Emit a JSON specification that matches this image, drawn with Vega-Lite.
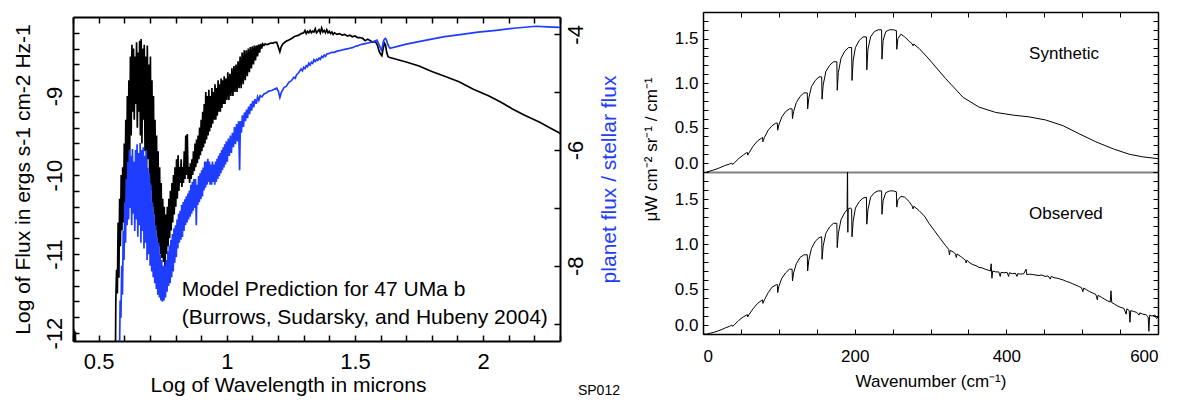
{
  "$schema": "https://vega.github.io/schema/vega-lite/v6.json",
  "background": "white",
  "padding": {"left": 12, "top": 8, "right": 5, "bottom": 0},
  "config": {"view": {"stroke": null}, "axis": {"grid": false, "domainColor": "black", "tickColor": "black", "labelColor": "black", "titleColor": "black", "titleFontWeight": "normal"}},
  "datasets": {
    "black": [
      {"x":0.4,"y":-12.2},{"x":0.403,"y":-11.95},{"x":0.406,"y":-12.3},{"x":0.409,"y":-11.98},{"x":0.412,"y":-12.4},{"x":0.55,"y":-12.5},{"x":0.563,"y":-12.5},
      {"x":0.566,"y":-12.1},{"x":0.567,"y":-11.6},{"x":0.570,"y":-11.2},{"x":0.573,"y":-11.5},{"x":0.576,"y":-10.6},{"x":0.579,"y":-11.3},{"x":0.582,"y":-10.3},{"x":0.585,"y":-10.9},{"x":0.588,"y":-10.0},{"x":0.591,"y":-10.7},{"x":0.594,"y":-9.9},{"x":0.597,"y":-10.6},{"x":0.600,"y":-9.6},{"x":0.603,"y":-10.4},{"x":0.606,"y":-9.3},{"x":0.609,"y":-10.2},{"x":0.612,"y":-9.0},{"x":0.615,"y":-10.0},{"x":0.618,"y":-8.8},{"x":0.621,"y":-9.8},{"x":0.624,"y":-8.5},{"x":0.627,"y":-9.5},{"x":0.630,"y":-8.35},{"x":0.633,"y":-9.2},{"x":0.636,"y":-8.4},{"x":0.639,"y":-9.3},{"x":0.642,"y":-8.5},{"x":0.645,"y":-9.1},{"x":0.648,"y":-8.32},{"x":0.651,"y":-9.4},{"x":0.654,"y":-8.45},{"x":0.657,"y":-9.2},{"x":0.660,"y":-8.3},{"x":0.663,"y":-9.5},{"x":0.666,"y":-8.28},{"x":0.669,"y":-9.6},{"x":0.672,"y":-8.4},{"x":0.675,"y":-9.3},{"x":0.678,"y":-8.35},{"x":0.681,"y":-9.7},{"x":0.684,"y":-8.5},{"x":0.687,"y":-9.9},{"x":0.690,"y":-8.36},{"x":0.693,"y":-9.8},{"x":0.696,"y":-8.6},{"x":0.699,"y":-10.1},{"x":0.702,"y":-8.5},{"x":0.705,"y":-10.2},{"x":0.708,"y":-8.8},{"x":0.711,"y":-10.4},{"x":0.714,"y":-9.0},{"x":0.717,"y":-10.5},{"x":0.720,"y":-9.3},{"x":0.723,"y":-10.7},{"x":0.726,"y":-9.5},{"x":0.729,"y":-10.8},{"x":0.732,"y":-9.7},{"x":0.735,"y":-10.9},{"x":0.738,"y":-9.9},{"x":0.741,"y":-11.0},{"x":0.744,"y":-10.1},{"x":0.747,"y":-11.05},{"x":0.750,"y":-10.3},{"x":0.753,"y":-11.1},{"x":0.756,"y":-10.4},{"x":0.759,"y":-11.15},{"x":0.762,"y":-10.5},{"x":0.765,"y":-11.0},{"x":0.768,"y":-10.4},{"x":0.771,"y":-10.9},{"x":0.774,"y":-10.3},{"x":0.777,"y":-10.8},{"x":0.780,"y":-10.2},{"x":0.783,"y":-10.7},{"x":0.786,"y":-10.1},{"x":0.789,"y":-10.6},{"x":0.792,"y":-10.0},{"x":0.795,"y":-10.5},{"x":0.798,"y":-9.9},{"x":0.801,"y":-10.4},{"x":0.804,"y":-9.8},{"x":0.807,"y":-10.3},{"x":0.810,"y":-9.75},{"x":0.813,"y":-10.2},{"x":0.816,"y":-9.9},{"x":0.819,"y":-10.1},{"x":0.822,"y":-9.8},{"x":0.825,"y":-10.15},{"x":0.828,"y":-9.9},{"x":0.831,"y":-10.1},{"x":0.834,"y":-9.7},{"x":0.837,"y":-10.05},{"x":0.840,"y":-9.5},{"x":0.843,"y":-10.0},{"x":0.846,"y":-9.48},{"x":0.849,"y":-10.05},{"x":0.852,"y":-9.9},{"x":0.855,"y":-10.1},{"x":0.858,"y":-9.85},{"x":0.861,"y":-10.05},{"x":0.864,"y":-9.8},{"x":0.867,"y":-10.0},{"x":0.870,"y":-9.7},{"x":0.873,"y":-9.95},{"x":0.876,"y":-9.6},{"x":0.879,"y":-9.9},{"x":0.882,"y":-9.55},{"x":0.885,"y":-9.85},{"x":0.888,"y":-9.5},{"x":0.891,"y":-9.8},{"x":0.894,"y":-9.4},{"x":0.897,"y":-9.75},{"x":0.900,"y":-9.3},{"x":0.903,"y":-9.7},{"x":0.906,"y":-9.2},{"x":0.909,"y":-9.65},{"x":0.912,"y":-9.1},{"x":0.915,"y":-9.6},{"x":0.918,"y":-8.95},{"x":0.921,"y":-9.55},{"x":0.924,"y":-9.0},{"x":0.927,"y":-9.5},{"x":0.930,"y":-8.92},{"x":0.933,"y":-9.45},{"x":0.936,"y":-9.0},{"x":0.939,"y":-9.4},{"x":0.942,"y":-8.9},{"x":0.945,"y":-9.35},{"x":0.948,"y":-8.95},{"x":0.951,"y":-9.3},{"x":0.954,"y":-8.85},{"x":0.957,"y":-9.3},{"x":0.960,"y":-8.9},{"x":0.963,"y":-9.25},{"x":0.966,"y":-8.8},{"x":0.969,"y":-9.2},{"x":0.972,"y":-8.85},{"x":0.975,"y":-9.2},{"x":0.978,"y":-8.78},{"x":0.981,"y":-9.15},{"x":0.984,"y":-8.8},{"x":0.987,"y":-9.1},{"x":0.990,"y":-8.75},{"x":0.993,"y":-9.1},{"x":0.996,"y":-8.78},{"x":1.000,"y":-9.05},{"x":1.004,"y":-8.7},{"x":1.008,"y":-9.05},{"x":1.012,"y":-8.72},{"x":1.016,"y":-9.0},{"x":1.020,"y":-8.65},{"x":1.024,"y":-9.0},{"x":1.028,"y":-8.62},{"x":1.032,"y":-8.95},{"x":1.036,"y":-8.6},{"x":1.040,"y":-8.95},{"x":1.044,"y":-8.56},{"x":1.048,"y":-8.9},{"x":1.052,"y":-8.5},{"x":1.056,"y":-8.9},{"x":1.060,"y":-8.45},{"x":1.064,"y":-8.85},{"x":1.068,"y":-8.42},{"x":1.072,"y":-8.8},{"x":1.076,"y":-8.42},{"x":1.080,"y":-8.75},{"x":1.084,"y":-8.4},{"x":1.088,"y":-8.7},{"x":1.092,"y":-8.38},{"x":1.096,"y":-8.65},{"x":1.100,"y":-8.37},{"x":1.104,"y":-8.6},{"x":1.108,"y":-8.36},{"x":1.112,"y":-8.55},{"x":1.116,"y":-8.36},{"x":1.120,"y":-8.5},{"x":1.124,"y":-8.35},{"x":1.128,"y":-8.45},{"x":1.132,"y":-8.34},{"x":1.136,"y":-8.4},{"x":1.140,"y":-8.34},{"x":1.145,"y":-8.36},{"x":1.150,"y":-8.34},{"x":1.157,"y":-8.35},{"x":1.164,"y":-8.34},{"x":1.172,"y":-8.33},{"x":1.180,"y":-8.33},{"x":1.188,"y":-8.32},{"x":1.195,"y":-8.32},{"x":1.201,"y":-8.38},{"x":1.207,"y":-8.44},{"x":1.212,"y":-8.38},{"x":1.219,"y":-8.34},{"x":1.230,"y":-8.31},{"x":1.242,"y":-8.29},{"x":1.255,"y":-8.27},{"x":1.262,"y":-8.25},{"x":1.270,"y":-8.24},{"x":1.281,"y":-8.23},{"x":1.290,"y":-8.21},{"x":1.300,"y":-8.2},{"x":1.305,"y":-8.17},{"x":1.310,"y":-8.21},{"x":1.315,"y":-8.18},{"x":1.320,"y":-8.2},{"x":1.325,"y":-8.17},{"x":1.330,"y":-8.2},{"x":1.335,"y":-8.18},{"x":1.340,"y":-8.19},{"x":1.345,"y":-8.15},{"x":1.350,"y":-8.2},{"x":1.355,"y":-8.18},{"x":1.360,"y":-8.16},{"x":1.365,"y":-8.2},{"x":1.370,"y":-8.14},{"x":1.375,"y":-8.19},{"x":1.380,"y":-8.17},{"x":1.385,"y":-8.2},{"x":1.390,"y":-8.16},{"x":1.395,"y":-8.2},{"x":1.400,"y":-8.18},{"x":1.405,"y":-8.21},{"x":1.410,"y":-8.19},{"x":1.415,"y":-8.22},{"x":1.420,"y":-8.2},{"x":1.430,"y":-8.22},{"x":1.440,"y":-8.21},{"x":1.450,"y":-8.23},{"x":1.460,"y":-8.22},{"x":1.470,"y":-8.24},{"x":1.480,"y":-8.23},{"x":1.490,"y":-8.25},{"x":1.500,"y":-8.24},{"x":1.510,"y":-8.26},{"x":1.520,"y":-8.26},{"x":1.530,"y":-8.27},{"x":1.540,"y":-8.3},{"x":1.550,"y":-8.28},{"x":1.560,"y":-8.3},{"x":1.570,"y":-8.32},{"x":1.580,"y":-8.31},{"x":1.588,"y":-8.36},{"x":1.594,"y":-8.43},{"x":1.600,"y":-8.47},{"x":1.605,"y":-8.49},{"x":1.610,"y":-8.4},{"x":1.615,"y":-8.33},{"x":1.619,"y":-8.35},{"x":1.624,"y":-8.45},{"x":1.629,"y":-8.5},{"x":1.633,"y":-8.51},{"x":1.700,"y":-8.57},{"x":1.750,"y":-8.62},{"x":1.800,"y":-8.69},{"x":1.850,"y":-8.75},{"x":1.906,"y":-8.82},{"x":1.960,"y":-8.91},{"x":2.023,"y":-9.0},{"x":2.070,"y":-9.08},{"x":2.113,"y":-9.16},{"x":2.160,"y":-9.24},{"x":2.219,"y":-9.33},{"x":2.260,"y":-9.40},{"x":2.305,"y":-9.48}
    ],
    "blue": [
      {"x":0.4,"y":-9.6},{"x":0.575,"y":-9.6},{"x":0.578,"y":-9.3},{"x":0.582,"y":-9.3},{"x":0.584,"y":-8.6},{"x":0.587,"y":-8.9},{"x":0.590,"y":-8.0},{"x":0.593,"y":-8.5},{"x":0.596,"y":-7.4},{"x":0.599,"y":-7.9},{"x":0.602,"y":-6.9},{"x":0.605,"y":-7.6},{"x":0.608,"y":-6.5},{"x":0.611,"y":-7.3},{"x":0.614,"y":-6.2},{"x":0.617,"y":-7.2},{"x":0.620,"y":-6.0},{"x":0.623,"y":-7.0},{"x":0.626,"y":-6.1},{"x":0.629,"y":-7.3},{"x":0.632,"y":-5.98},{"x":0.635,"y":-7.1},{"x":0.638,"y":-6.2},{"x":0.641,"y":-7.4},{"x":0.644,"y":-6.0},{"x":0.647,"y":-7.2},{"x":0.650,"y":-5.9},{"x":0.653,"y":-7.5},{"x":0.656,"y":-6.05},{"x":0.659,"y":-7.3},{"x":0.662,"y":-5.88},{"x":0.665,"y":-7.6},{"x":0.668,"y":-6.0},{"x":0.671,"y":-7.4},{"x":0.674,"y":-5.95},{"x":0.677,"y":-7.7},{"x":0.680,"y":-6.1},{"x":0.683,"y":-7.6},{"x":0.686,"y":-6.0},{"x":0.689,"y":-7.9},{"x":0.692,"y":-6.3},{"x":0.695,"y":-7.8},{"x":0.698,"y":-6.4},{"x":0.701,"y":-8.0},{"x":0.704,"y":-6.6},{"x":0.707,"y":-8.1},{"x":0.710,"y":-6.9},{"x":0.713,"y":-8.2},{"x":0.716,"y":-7.1},{"x":0.719,"y":-8.3},{"x":0.722,"y":-7.3},{"x":0.725,"y":-8.4},{"x":0.728,"y":-7.5},{"x":0.731,"y":-8.5},{"x":0.734,"y":-7.6},{"x":0.737,"y":-8.55},{"x":0.740,"y":-7.8},{"x":0.743,"y":-8.6},{"x":0.746,"y":-7.9},{"x":0.749,"y":-8.62},{"x":0.752,"y":-8.0},{"x":0.755,"y":-8.6},{"x":0.758,"y":-8.0},{"x":0.761,"y":-8.55},{"x":0.764,"y":-7.9},{"x":0.767,"y":-8.45},{"x":0.770,"y":-7.75},{"x":0.773,"y":-8.35},{"x":0.776,"y":-7.65},{"x":0.779,"y":-8.3},{"x":0.782,"y":-7.55},{"x":0.785,"y":-8.2},{"x":0.788,"y":-7.45},{"x":0.791,"y":-8.1},{"x":0.794,"y":-7.35},{"x":0.797,"y":-7.95},{"x":0.800,"y":-7.3},{"x":0.803,"y":-7.85},{"x":0.806,"y":-7.2},{"x":0.809,"y":-7.7},{"x":0.812,"y":-7.1},{"x":0.815,"y":-7.6},{"x":0.818,"y":-7.05},{"x":0.821,"y":-7.55},{"x":0.824,"y":-6.95},{"x":0.827,"y":-7.5},{"x":0.830,"y":-6.9},{"x":0.833,"y":-7.4},{"x":0.836,"y":-6.85},{"x":0.839,"y":-7.3},{"x":0.842,"y":-6.8},{"x":0.845,"y":-7.25},{"x":0.848,"y":-6.75},{"x":0.851,"y":-7.2},{"x":0.854,"y":-6.7},{"x":0.857,"y":-7.15},{"x":0.860,"y":-6.6},{"x":0.863,"y":-7.1},{"x":0.866,"y":-6.55},{"x":0.869,"y":-7.05},{"x":0.872,"y":-6.5},{"x":0.875,"y":-7.0},{"x":0.878,"y":-6.5},{"x":0.881,"y":-7.3},{"x":0.884,"y":-6.6},{"x":0.887,"y":-6.95},{"x":0.890,"y":-6.45},{"x":0.893,"y":-6.9},{"x":0.896,"y":-6.4},{"x":0.899,"y":-6.85},{"x":0.902,"y":-6.35},{"x":0.905,"y":-6.8},{"x":0.908,"y":-6.3},{"x":0.911,"y":-6.7},{"x":0.914,"y":-6.2},{"x":0.917,"y":-6.65},{"x":0.920,"y":-6.2},{"x":0.923,"y":-6.6},{"x":0.926,"y":-6.15},{"x":0.929,"y":-6.55},{"x":0.932,"y":-6.2},{"x":0.935,"y":-6.6},{"x":0.938,"y":-6.25},{"x":0.941,"y":-6.6},{"x":0.944,"y":-6.2},{"x":0.947,"y":-6.55},{"x":0.950,"y":-6.25},{"x":0.953,"y":-6.6},{"x":0.956,"y":-6.2},{"x":0.959,"y":-6.55},{"x":0.962,"y":-6.15},{"x":0.965,"y":-6.5},{"x":0.968,"y":-6.1},{"x":0.971,"y":-6.45},{"x":0.974,"y":-6.05},{"x":0.977,"y":-6.4},{"x":0.980,"y":-6.0},{"x":0.983,"y":-6.35},{"x":0.986,"y":-5.95},{"x":0.989,"y":-6.3},{"x":0.992,"y":-5.9},{"x":0.995,"y":-6.25},{"x":0.998,"y":-5.85},{"x":1.002,"y":-6.2},{"x":1.006,"y":-5.8},{"x":1.010,"y":-6.1},{"x":1.014,"y":-5.75},{"x":1.018,"y":-6.05},{"x":1.022,"y":-5.7},{"x":1.026,"y":-5.95},{"x":1.030,"y":-5.6},{"x":1.034,"y":-5.9},{"x":1.038,"y":-5.55},{"x":1.042,"y":-5.85},{"x":1.046,"y":-5.5},{"x":1.050,"y":-6.35},{"x":1.053,"y":-5.5},{"x":1.057,"y":-5.7},{"x":1.061,"y":-5.4},{"x":1.065,"y":-5.6},{"x":1.069,"y":-5.35},{"x":1.073,"y":-5.5},{"x":1.077,"y":-5.3},{"x":1.081,"y":-5.45},{"x":1.085,"y":-5.25},{"x":1.089,"y":-5.38},{"x":1.093,"y":-5.2},{"x":1.097,"y":-5.32},{"x":1.101,"y":-5.15},{"x":1.105,"y":-5.26},{"x":1.110,"y":-5.12},{"x":1.115,"y":-5.2},{"x":1.120,"y":-5.08},{"x":1.125,"y":-5.14},{"x":1.130,"y":-5.06},{"x":1.137,"y":-5.08},{"x":1.145,"y":-5.03},{"x":1.155,"y":-5.01},{"x":1.164,"y":-4.98},{"x":1.175,"y":-4.97},{"x":1.185,"y":-4.95},{"x":1.195,"y":-4.93},{"x":1.201,"y":-4.98},{"x":1.207,"y":-5.09},{"x":1.213,"y":-5.0},{"x":1.223,"y":-4.92},{"x":1.232,"y":-4.9},{"x":1.242,"y":-4.83},{"x":1.252,"y":-4.8},{"x":1.262,"y":-4.74},{"x":1.267,"y":-4.76},{"x":1.272,"y":-4.7},{"x":1.281,"y":-4.66},{"x":1.290,"y":-4.6},{"x":1.295,"y":-4.63},{"x":1.300,"y":-4.57},{"x":1.305,"y":-4.59},{"x":1.310,"y":-4.54},{"x":1.315,"y":-4.56},{"x":1.320,"y":-4.5},{"x":1.325,"y":-4.53},{"x":1.330,"y":-4.48},{"x":1.335,"y":-4.5},{"x":1.340,"y":-4.44},{"x":1.345,"y":-4.47},{"x":1.350,"y":-4.43},{"x":1.355,"y":-4.45},{"x":1.360,"y":-4.41},{"x":1.365,"y":-4.43},{"x":1.370,"y":-4.38},{"x":1.375,"y":-4.4},{"x":1.380,"y":-4.36},{"x":1.385,"y":-4.38},{"x":1.390,"y":-4.34},{"x":1.400,"y":-4.33},{"x":1.410,"y":-4.31},{"x":1.420,"y":-4.31},{"x":1.430,"y":-4.29},{"x":1.440,"y":-4.28},{"x":1.450,"y":-4.27},{"x":1.460,"y":-4.26},{"x":1.470,"y":-4.25},{"x":1.480,"y":-4.24},{"x":1.490,"y":-4.23},{"x":1.500,"y":-4.21},{"x":1.510,"y":-4.20},{"x":1.520,"y":-4.18},{"x":1.530,"y":-4.17},{"x":1.540,"y":-4.16},{"x":1.550,"y":-4.15},{"x":1.560,"y":-4.14},{"x":1.570,"y":-4.13},{"x":1.580,"y":-4.11},{"x":1.586,"y":-4.10},{"x":1.592,"y":-4.16},{"x":1.598,"y":-4.22},{"x":1.603,"y":-4.27},{"x":1.607,"y":-4.22},{"x":1.611,"y":-4.12},{"x":1.615,"y":-4.08},{"x":1.619,"y":-4.07},{"x":1.623,"y":-4.1},{"x":1.628,"y":-4.17},{"x":1.633,"y":-4.22},{"x":1.637,"y":-4.24},{"x":1.700,"y":-4.17},{"x":1.789,"y":-4.09},{"x":1.850,"y":-4.04},{"x":1.918,"y":-4.0},{"x":1.980,"y":-3.96},{"x":2.051,"y":-3.93},{"x":2.130,"y":-3.89},{"x":2.207,"y":-3.86},{"x":2.250,"y":-3.87},{"x":2.305,"y":-3.88}
    ],
    "synth": [
      {"x":5,"y":0.0},{"x":13,"y":0.02},{"x":20,"y":0.04},{"x":28,"y":0.07},{"x":35,"y":0.09},{"x":38,"y":0.1},{"x":39,"y":0.085},{"x":41,"y":0.1},{"x":47,"y":0.15},{"x":53,"y":0.19},{"x":57,"y":0.215},{"x":58.5,"y":0.22},{"x":59,"y":0.19},{"x":61,"y":0.22},{"x":66,"y":0.29},{"x":72,"y":0.35},{"x":77,"y":0.38},{"x":78.5,"y":0.39},{"x":79,"y":0.34},{"x":81,"y":0.39},{"x":86,"y":0.47},{"x":91,"y":0.52},{"x":96,"y":0.55},{"x":98,"y":0.55},{"x":98.5,"y":0.47},{"x":100,"y":0.53},{"x":104,"y":0.62},{"x":109,"y":0.68},{"x":114,"y":0.71},{"x":117.5,"y":0.71},{"x":118,"y":0.60},{"x":119.5,"y":0.68},{"x":123,"y":0.78},{"x":128,"y":0.85},{"x":133,"y":0.89},{"x":137.5,"y":0.89},{"x":138,"y":0.71},{"x":139.5,"y":0.83},{"x":143,"y":0.96},{"x":148,"y":1.03},{"x":153,"y":1.07},{"x":156.5,"y":1.07},{"x":157,"y":0.82},{"x":158.5,"y":0.98},{"x":162,"y":1.13},{"x":167,"y":1.2},{"x":172,"y":1.24},{"x":176.5,"y":1.24},{"x":177,"y":0.92},{"x":178.5,"y":1.12},{"x":182,"y":1.28},{"x":187,"y":1.36},{"x":192,"y":1.40},{"x":196,"y":1.40},{"x":196.5,"y":1.03},{"x":198,"y":1.25},{"x":201,"y":1.40},{"x":206,"y":1.48},{"x":211,"y":1.52},{"x":215.5,"y":1.52},{"x":216,"y":1.15},{"x":217.5,"y":1.38},{"x":221,"y":1.52},{"x":226,"y":1.58},{"x":231,"y":1.60},{"x":235.5,"y":1.60},{"x":236,"y":1.27},{"x":237.5,"y":1.48},{"x":241,"y":1.58},{"x":246,"y":1.60},{"x":251,"y":1.60},{"x":255,"y":1.59},{"x":255.5,"y":1.38},{"x":257,"y":1.50},{"x":261,"y":1.55},{"x":266,"y":1.52},{"x":272,"y":1.47},{"x":276,"y":1.44},{"x":277,"y":1.42},{"x":278,"y":1.44},{"x":285,"y":1.39},{"x":298,"y":1.27},{"x":320,"y":1.05},{"x":343,"y":0.84},{"x":364,"y":0.73},{"x":386,"y":0.67},{"x":409,"y":0.64},{"x":430,"y":0.62},{"x":452,"y":0.585},{"x":475,"y":0.52},{"x":496,"y":0.43},{"x":518,"y":0.34},{"x":541,"y":0.26},{"x":562,"y":0.2},{"x":580,"y":0.17},{"x":600,"y":0.15}
    ],
    "obs": [
      {"x":0,"y":0.0},{"x":5,"y":0.0},{"x":10,"y":0.01},{"x":15,"y":0.02},{"x":20,"y":0.035},{"x":25,"y":0.05},{"x":30,"y":0.07},{"x":35,"y":0.085},{"x":38,"y":0.1},{"x":39,"y":0.085},{"x":41,"y":0.1},{"x":47,"y":0.15},{"x":53,"y":0.19},{"x":58.5,"y":0.215},{"x":59,"y":0.19},{"x":61,"y":0.22},{"x":66,"y":0.28},{"x":72,"y":0.34},{"x":78.5,"y":0.38},{"x":79,"y":0.34},{"x":81,"y":0.38},{"x":86,"y":0.46},{"x":91,"y":0.52},{"x":97,"y":0.55},{"x":98,"y":0.55},{"x":98.5,"y":0.46},{"x":100,"y":0.53},{"x":104,"y":0.62},{"x":109,"y":0.68},{"x":114,"y":0.72},{"x":117.5,"y":0.72},{"x":118,"y":0.59},{"x":119.5,"y":0.68},{"x":123,"y":0.78},{"x":128,"y":0.85},{"x":133,"y":0.88},{"x":137.5,"y":0.88},{"x":138,"y":0.70},{"x":139.5,"y":0.82},{"x":143,"y":0.95},{"x":148,"y":1.03},{"x":153,"y":1.07},{"x":156.5,"y":1.08},{"x":157,"y":0.83},{"x":158.5,"y":0.98},{"x":162,"y":1.12},{"x":167,"y":1.19},{"x":172,"y":1.23},{"x":176.5,"y":1.23},{"x":177,"y":0.96},{"x":178.5,"y":1.12},{"x":182,"y":1.27},{"x":187,"y":1.35},{"x":190,"y":1.38},{"x":190.6,"y":1.95},{"x":191,"y":1.13},{"x":191.4,"y":1.39},{"x":194,"y":1.40},{"x":196,"y":1.39},{"x":196.5,"y":1.08},{"x":198,"y":1.25},{"x":201,"y":1.40},{"x":206,"y":1.47},{"x":211,"y":1.51},{"x":215.5,"y":1.52},{"x":216,"y":1.22},{"x":217.5,"y":1.38},{"x":221,"y":1.52},{"x":226,"y":1.57},{"x":231,"y":1.59},{"x":235.5,"y":1.59},{"x":236,"y":1.33},{"x":237.5,"y":1.48},{"x":241,"y":1.57},{"x":246,"y":1.59},{"x":251,"y":1.59},{"x":255,"y":1.58},{"x":255.5,"y":1.41},{"x":257,"y":1.49},{"x":261,"y":1.53},{"x":266,"y":1.52},{"x":272,"y":1.47},{"x":276,"y":1.42},{"x":277,"y":1.39},{"x":278,"y":1.42},{"x":285,"y":1.37},{"x":292,"y":1.31},{"x":298,"y":1.23},{"x":305,"y":1.15},{"x":312,"y":1.07},{"x":320,"y":0.98},{"x":324,"y":0.94},{"x":325,"y":0.88},{"x":326,"y":0.93},{"x":330,"y":0.91},{"x":333,"y":0.89},{"x":334,"y":0.85},{"x":335,"y":0.89},{"x":340,"y":0.86},{"x":343,"y":0.84},{"x":346,"y":0.82},{"x":347,"y":0.79},{"x":348,"y":0.82},{"x":352,"y":0.79},{"x":356,"y":0.77},{"x":360,"y":0.76},{"x":364,"y":0.74},{"x":368,"y":0.735},{"x":372,"y":0.72},{"x":376,"y":0.71},{"x":379,"y":0.70},{"x":380,"y":0.78},{"x":381,"y":0.62},{"x":382,"y":0.70},{"x":386,"y":0.69},{"x":390,"y":0.69},{"x":392,"y":0.64},{"x":393,"y":0.685},{"x":397,"y":0.68},{"x":401,"y":0.685},{"x":403,"y":0.64},{"x":404,"y":0.68},{"x":408,"y":0.67},{"x":412,"y":0.675},{"x":414,"y":0.64},{"x":415,"y":0.67},{"x":419,"y":0.665},{"x":423,"y":0.67},{"x":426,"y":0.72},{"x":427,"y":0.66},{"x":431,"y":0.665},{"x":435,"y":0.66},{"x":439,"y":0.655},{"x":443,"y":0.65},{"x":447,"y":0.655},{"x":451,"y":0.64},{"x":455,"y":0.645},{"x":458,"y":0.61},{"x":459,"y":0.64},{"x":463,"y":0.625},{"x":467,"y":0.62},{"x":471,"y":0.61},{"x":475,"y":0.60},{"x":479,"y":0.585},{"x":483,"y":0.575},{"x":487,"y":0.56},{"x":491,"y":0.545},{"x":495,"y":0.53},{"x":499,"y":0.515},{"x":501,"y":0.47},{"x":502,"y":0.51},{"x":506,"y":0.49},{"x":510,"y":0.47},{"x":514,"y":0.455},{"x":518,"y":0.44},{"x":520,"y":0.38},{"x":521,"y":0.43},{"x":525,"y":0.41},{"x":529,"y":0.39},{"x":533,"y":0.37},{"x":537,"y":0.355},{"x":538,"y":0.48},{"x":539,"y":0.35},{"x":543,"y":0.33},{"x":547,"y":0.31},{"x":551,"y":0.295},{"x":555,"y":0.285},{"x":558,"y":0.22},{"x":559,"y":0.28},{"x":562,"y":0.26},{"x":563,"y":0.13},{"x":564,"y":0.26},{"x":568,"y":0.25},{"x":572,"y":0.24},{"x":575,"y":0.21},{"x":576,"y":0.235},{"x":580,"y":0.22},{"x":584,"y":0.215},{"x":587,"y":0.19},{"x":588,"y":0.03},{"x":589,"y":0.21},{"x":592,"y":0.2},{"x":596,"y":0.21},{"x":598,"y":0.17},{"x":600,"y":0.19}
    ],
    "note": [
      {"x":0.824,"y":-11.53,"t":"Model Prediction for 47 UMa b"},
      {"x":0.824,"y":-11.886,"t":"(Burrows, Sudarsky, and Hubeny 2004)"}
    ],
    "code": [{"x":2.37,"y":-12.78,"t":"SP012"}],
    "lab1": [{"x":430,"y":1.27,"t":"Synthetic"}],
    "lab2": [{"x":430,"y":1.28,"t":"Observed"}],
    "blank": [{"t":""}]
  },
  "spacing": 22,
  "hconcat": [
    {
      "spacing": 0,
      "bounds": "flush",
      "vconcat": [
        {
          "width": 487,
          "height": 5,
          "data": {"name": "blank"},
          "mark": {"type": "text"},
          "encoding": {"text": {"field": "t"}}
        },
        {
          "width": 487,
          "height": 324,
          "layer": [
            {
              "data": {"name": "black"},
              "mark": {"type": "line", "color": "black", "strokeWidth": 1.7, "clip": true},
              "encoding": {
                "x": {"field": "x", "type": "quantitative", "scale": {"domain": [0.4, 2.3], "nice": false, "zero": false},
                  "axis": {"orient": "bottom", "values": [0.4,0.5,0.6,0.7,0.8,0.9,1,1.1,1.2,1.3,1.4,1.5,1.6,1.7,1.8,1.9,2,2.1,2.2,2.3],
                    "labelExpr": "datum.value == 0.5 ? '0.5' : datum.value == 1 ? '1' : datum.value == 1.5 ? '1.5' : datum.value == 2 ? '2' : ''",
                    "tickSize": -6, "tickWidth": 1.5, "domainWidth": 2, "labelPadding": 16, "labelFont": "Liberation Sans", "labelFontSize": 22,
                    "title": "Log of Wavelength in microns", "titleFont": "Liberation Sans", "titleFontSize": 21, "titlePadding": 2, "titleX": 215}},
                "y": {"field": "y", "type": "quantitative", "scale": {"domain": [-12.1, -8.0], "nice": false, "zero": false},
                  "axis": {"orient": "left", "values": [-12,-11.8,-11.6,-11.4,-11.2,-11,-10.8,-10.6,-10.4,-10.2,-10,-9.8,-9.6,-9.4,-9.2,-9,-8.8,-8.6,-8.4,-8.2],
                    "labelExpr": "datum.value % 1 == 0 ? '-' + abs(datum.value) : ''", "labelAngle": -90, "labelAlign": "center", "labelBaseline": "bottom",
                    "tickSize": -6, "tickWidth": 1.5, "domainWidth": 2, "labelPadding": 13, "labelFont": "Liberation Sans", "labelFontSize": 22,
                    "title": "Log of Flux in ergs s-1 cm-2 Hz-1", "titleFont": "Liberation Sans", "titleFontSize": 21, "titlePadding": 10}}
              }
            },
            {
              "data": {"name": "blue"},
              "mark": {"type": "line", "color": "#1f3dff", "strokeWidth": 1.7, "clip": true},
              "encoding": {
                "x": {"field": "x", "type": "quantitative", "scale": {"domain": [0.4, 2.3], "nice": false, "zero": false},
                  "axis": {"orient": "top", "values": [0.4,0.5,0.6,0.7,0.8,0.9,1,1.1,1.2,1.3,1.4,1.5,1.6,1.7,1.8,1.9,2,2.1,2.2,2.3], "labels": false, "title": null, "tickSize": -6, "tickWidth": 1.5, "domainWidth": 2}},
                "y": {"field": "y", "type": "quantitative", "scale": {"domain": [-9.3, -3.7], "nice": false, "zero": false},
                  "axis": {"orient": "right", "values": [-9,-8,-7,-6,-5,-4],
                    "labelExpr": "datum.value % 2 == 0 ? '-' + abs(datum.value) : ''", "labelAngle": -90, "labelAlign": "center", "labelBaseline": "top",
                    "tickSize": -6, "tickWidth": 1.5, "domainWidth": 2, "labelPadding": 11, "labelFont": "Liberation Sans", "labelFontSize": 22,
                    "title": "planet flux / stellar flux", "titleColor": "#1f3dff", "titleAngle": -90, "titleFont": "Liberation Sans", "titleFontSize": 21, "titlePadding": 33}}
              }
            },
            {
              "data": {"name": "note"},
              "mark": {"type": "text", "align": "left", "baseline": "alphabetic", "font": "Liberation Sans", "fontSize": 21, "color": "black"},
              "encoding": {
                "x": {"field": "x", "type": "quantitative", "scale": {"domain": [0.4, 2.3], "nice": false, "zero": false}, "axis": null},
                "y": {"field": "y", "type": "quantitative", "scale": {"domain": [-12.1, -8.0], "nice": false, "zero": false}, "axis": null},
                "text": {"field": "t"}
              }
            },
            {
              "data": {"name": "code"},
              "mark": {"type": "text", "align": "left", "baseline": "alphabetic", "font": "Liberation Sans", "fontSize": 14, "color": "black"},
              "encoding": {
                "x": {"field": "x", "type": "quantitative", "scale": {"domain": [0.4, 2.3], "nice": false, "zero": false}, "axis": null},
                "y": {"field": "y", "type": "quantitative", "scale": {"domain": [-12.1, -8.0], "nice": false, "zero": false}, "axis": null},
                "text": {"field": "t"}
              }
            }
          ],
          "resolve": {"scale": {"y": "independent"}, "axis": {"x": "independent", "y": "independent"}}
        }
      ]
    },
    {
      "vconcat": [
        {
          "width": 455,
          "height": 160,
          "layer": [
            {
              "data": {"name": "synth"},
              "mark": {"type": "line", "color": "black", "strokeWidth": 1, "clip": true},
              "encoding": {
                "x": {"field": "x", "type": "quantitative", "scale": {"domain": [0, 600], "nice": false, "zero": false},
                  "axis": {"orient": "top", "values": [0,50,100,150,200,250,300,350,400,450,500,550,600], "labels": false, "title": null, "tickSize": -5, "domainWidth": 1.5}},
                "y": {"field": "y", "type": "quantitative", "scale": {"domain": [0, 1.8], "nice": false, "zero": false},
                  "axis": {"orient": "left", "values": [0,0.1,0.2,0.3,0.4,0.5,0.6,0.7,0.8,0.9,1,1.1,1.2,1.3,1.4,1.5,1.6,1.7,1.8],
                    "labelExpr": "indexof([0,0.5,1,1.5], datum.value) >= 0 ? format(datum.value, '.1f') : ''", "labelFlush": true,
                    "tickSize": -5, "domainWidth": 1.5, "labelPadding": 10, "labelFont": "Liberation Sans", "labelFontSize": 17,
                    "title": "μW cm⁻² sr⁻¹ / cm⁻¹", "titleFont": "Liberation Sans", "titleFontSize": 17, "titlePadding": 14, "titleY": 137, "titleAlign": "center", "titleAngle": -90}}
              }
            },
            {
              "data": {"name": "lab1"},
              "mark": {"type": "text", "align": "left", "baseline": "alphabetic", "font": "Liberation Sans", "fontSize": 17, "color": "black"},
              "encoding": {
                "x": {"field": "x", "type": "quantitative", "scale": {"domain": [0, 600], "nice": false, "zero": false},
                  "axis": {"orient": "bottom", "labels": false, "ticks": false, "title": null, "domainColor": "#808080", "domainWidth": 2}},
                "y": {"field": "y", "type": "quantitative", "scale": {"domain": [0, 1.8], "nice": false, "zero": false},
                  "axis": {"orient": "right", "values": [0,0.1,0.2,0.3,0.4,0.5,0.6,0.7,0.8,0.9,1,1.1,1.2,1.3,1.4,1.5,1.6,1.7,1.8], "labels": false, "title": null, "tickSize": -5, "domainWidth": 1.5}},
                "text": {"field": "t"}
              }
            }
          ],
          "resolve": {"axis": {"x": "independent", "y": "independent"}}
        },
        {
          "width": 455,
          "height": 162,
          "layer": [
            {
              "data": {"name": "obs"},
              "mark": {"type": "line", "color": "black", "strokeWidth": 1, "clip": true},
              "encoding": {
                "x": {"field": "x", "type": "quantitative", "scale": {"domain": [0, 600], "nice": false, "zero": false},
                  "axis": {"orient": "bottom", "values": [0,50,100,150,200,250,300,350,400,450,500,550,600],
                    "labelExpr": "datum.value % 200 == 0 ? '' + datum.value : ''",
                    "tickSize": -5, "domainWidth": 1.5, "labelPadding": 19, "labelFont": "Liberation Sans", "labelFontSize": 17,
                    "title": "Wavenumber (cm⁻¹)", "titleFont": "Liberation Sans", "titleFontSize": 17, "titlePadding": 9}},
                "y": {"field": "y", "type": "quantitative", "scale": {"domain": [0, 1.8], "nice": false, "zero": false},
                  "axis": {"orient": "left", "values": [0,0.1,0.2,0.3,0.4,0.5,0.6,0.7,0.8,0.9,1,1.1,1.2,1.3,1.4,1.5,1.6,1.7,1.8],
                    "labelExpr": "indexof([0,0.5,1,1.5], datum.value) >= 0 ? format(datum.value, '.1f') : ''", "labelFlush": true,
                    "tickSize": -5, "domainWidth": 1.5, "labelPadding": 10, "labelFont": "Liberation Sans", "labelFontSize": 17, "title": null}}
              }
            },
            {
              "data": {"name": "lab2"},
              "mark": {"type": "text", "align": "left", "baseline": "alphabetic", "font": "Liberation Sans", "fontSize": 17, "color": "black"},
              "encoding": {
                "x": {"field": "x", "type": "quantitative", "scale": {"domain": [0, 600], "nice": false, "zero": false}, "axis": null},
                "y": {"field": "y", "type": "quantitative", "scale": {"domain": [0, 1.8], "nice": false, "zero": false},
                  "axis": {"orient": "right", "values": [0,0.1,0.2,0.3,0.4,0.5,0.6,0.7,0.8,0.9,1,1.1,1.2,1.3,1.4,1.5,1.6,1.7,1.8], "labels": false, "title": null, "tickSize": -5, "domainWidth": 1.5}},
                "text": {"field": "t"}
              }
            }
          ],
          "resolve": {"axis": {"x": "independent", "y": "independent"}}
        }
      ],
      "spacing": 0,
      "bounds": "flush"
    }
  ]
}
